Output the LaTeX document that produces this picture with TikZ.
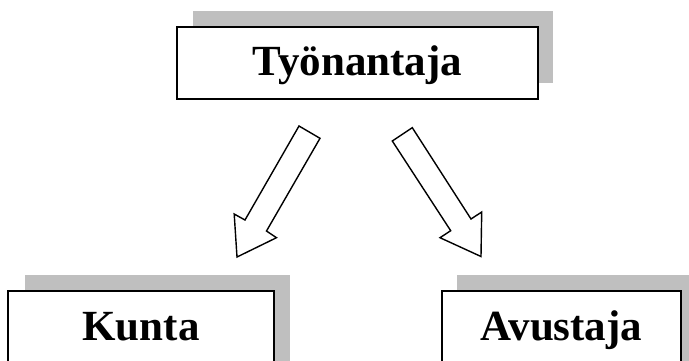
\documentclass[tikz,border=0pt]{standalone}
\usepackage{fontspec}
\setmainfont{Liberation Serif}
\begin{document}
\begin{tikzpicture}[x=1pt,y=-1pt,
  shadowbox/.style={fill=black!25, draw=none},
  mainbox/.style={fill=white, draw=black, line width=2pt},
  label/.style={anchor=base, font=\fontsize{43}{50}\selectfont\bfseries, inner sep=0pt},
  blockarrow/.style={draw=black, fill=white, line width=1.4pt, line join=miter}]
\useasboundingbox (0,0) rectangle (689,360);
% top box
\fill[shadowbox] (193,11) rectangle (553,83);
\draw[mainbox] (177,27) rectangle (538,99);
\node[label] (tyo) at (357.5,75) {Työnantaja};
% Kunta box
\fill[shadowbox] (25,275) rectangle (290,370);
\draw[mainbox] (8,291) rectangle (274,370);
\node[label] (kunta) at (141,340) {Kunta};
% Avustaja box
\fill[shadowbox] (457,275) rectangle (700,370);
\draw[mainbox] (441.5,291) rectangle (681,370);
\node[label] (avus) at (561.5,340) {Avustaja};
% left block arrow
\draw[blockarrow] (299,126) -- (320,138.3) -- (266.5,231) -- (276.5,237.7) -- (237,257) -- (234.2,214) -- (245,220) -- cycle;
% right block arrow
\draw[blockarrow] (412.3,127.7) -- (392.3,141) -- (450.7,230.7) -- (440,237.7) -- (481,256.5) -- (481.7,212) -- (471,219) -- cycle;
\end{tikzpicture}
\end{document}
